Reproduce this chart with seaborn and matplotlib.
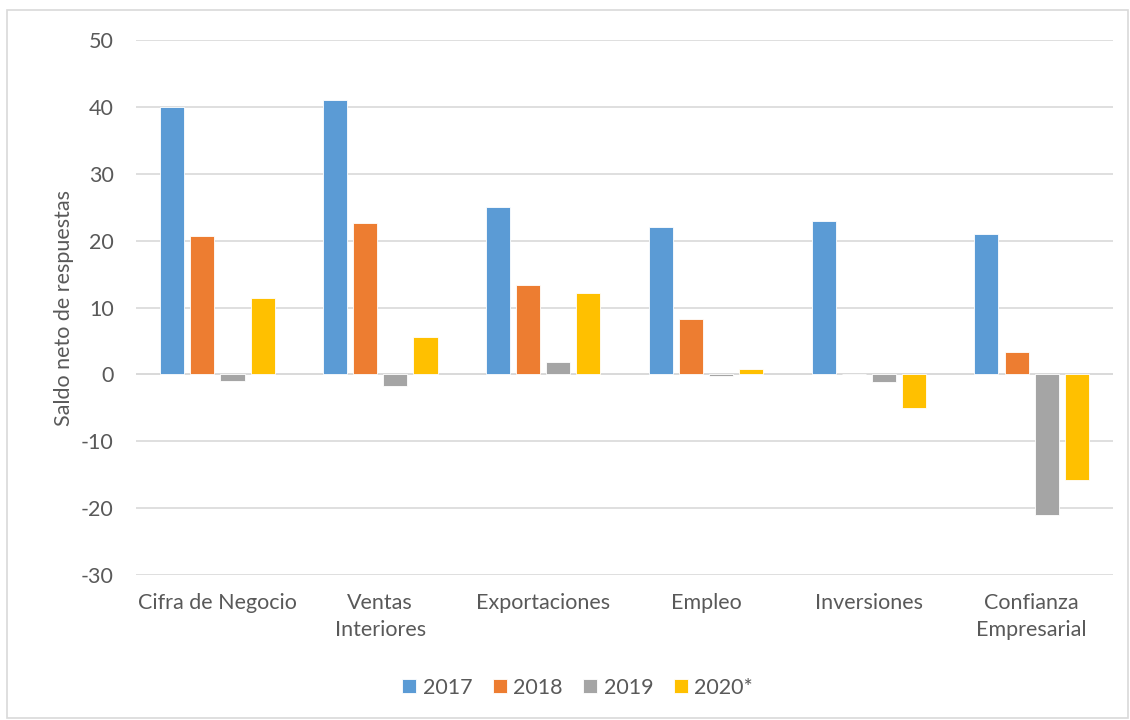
import pandas as pd
import matplotlib.pyplot as plt
from matplotlib.patches import Rectangle
import seaborn as sns

categorias = ['Cifra de Negocio', 'Ventas\nInteriores', 'Exportaciones', 'Empleo',
              'Inversiones', 'Confianza\nEmpresarial']
anios = ['2017', '2018', '2019', '2020*']
v2017 = [40.0, 41.0, 25.0, 22.0, 23.0, 21.0]
v2018 = [20.7, 22.6, 13.4, 8.3, 0.0, 3.3]
v2019 = [-1.0, -1.7, 1.8, -0.2, -1.1, -21.0]
v2020 = [11.4, 5.6, 12.2, 0.8, -5.0, -15.8]
colores = ['#5B9BD5', '#ED7D31', '#A5A5A5', '#FFC000']

df = pd.DataFrame({
    'categoria': categorias * 4,
    'anio': [a for a in anios for _ in categorias],
    'valor': v2017 + v2018 + v2019 + v2020,
})

sns.set_style('white')
plt.rcParams['font.family'] = ['Lato', 'DejaVu Sans']
plt.rcParams['axes.unicode_minus'] = False

fig = plt.figure(figsize=(11.3, 7.2), dpi=100)
ax = fig.add_axes([0.1204, 0.2014, 0.8646, 0.743])

sns.barplot(data=df, x='categoria', y='valor', hue='anio', order=categorias,
            hue_order=anios, palette=colores, width=0.74, gap=0.2,
            saturation=1, edgecolor='white', linewidth=0.6, ax=ax)

ax.set_ylim(-30, 50)
ax.set_yticks(range(-30, 51, 10))
ax.yaxis.grid(True, color='#D9D9D9', linewidth=1.2)
ax.set_axisbelow(True)
ax.axhline(0, color='#D9D9D9', linewidth=1.2, zorder=0)
for s in ax.spines.values():
    s.set_visible(False)
fs = 15.5
ax.tick_params(axis='both', length=0, labelsize=fs, labelcolor='#595959')
ax.tick_params(axis='x', pad=13)
ax.tick_params(axis='y', pad=16)
for t in ax.get_xticklabels():
    t.set_linespacing(1.45)
ax.set_xlabel('')
ax.set_ylabel('Saldo neto de respuestas', fontsize=fs, color='#595959', labelpad=5)

ax.legend(loc='center', bbox_to_anchor=(0.452, -0.211), ncol=4, frameon=False,
          fontsize=fs, handlelength=0.65, handleheight=0.65, handletextpad=0.3,
          columnspacing=0.95, labelcolor='#595959')

fig.patches.append(Rectangle((0.006, 0.003), 0.992, 0.983, transform=fig.transFigure,
                             fill=False, edgecolor='#D9D9D9', linewidth=1.2))

fig.savefig('out.png', dpi=100)
